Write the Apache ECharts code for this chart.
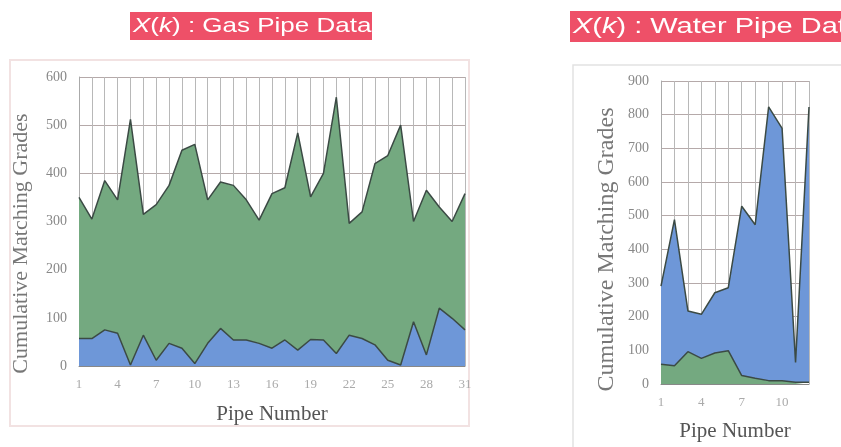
<!DOCTYPE html>
<html>
<head>
<meta charset="utf-8">
<script src="https://cdn.jsdelivr.net/npm/echarts@6/dist/echarts.min.js"></script>
<style>
  html, body { margin: 0; padding: 0; background: #fff; }
  #chart { width: 841px; height: 447px; }
</style>
</head>
<body>
<div id="chart"></div>
<script>
// gas pipes: blue bottom layer, green stacked on top
const gasPipes = ['1','2','3','4','5','6','7','8','9','10','11','12','13','14','15','16','17','18','19','20','21','22','23','24','25','26','27','28','29','30','31'];
const gasBlue = [57, 57, 75, 68, 2, 64, 12, 47, 37, 5, 47, 78, 54, 54, 47, 37, 54, 33, 55, 54, 26, 64, 57, 44, 12, 2, 92, 23, 120, 99, 75];
const gasGreen = [293, 248, 310, 277, 510, 251, 323, 328, 411, 455, 298, 304, 321, 291, 256, 321, 316, 451, 296, 346, 532, 232, 263, 376, 425, 498, 208, 342, 210, 201, 283];
const gasTicks = [0, 100, 200, 300, 400, 500, 600];

// water pipes: green bottom layer, blue stacked on top
const waterPipes = ['1','2','3','4','5','6','7','8','9','10','11','12'];
const waterGreen = [59, 54, 96, 76, 92, 99, 25, 17, 10, 10, 5, 5];
const waterBlue = [232, 434, 121, 131, 179, 187, 503, 456, 813, 749, 59, 818];
const waterTicks = [0, 100, 200, 300, 400, 500, 600, 700, 800, 900];

const GREEN = '#74a980';
const BLUE = '#6e97d8';
const EDGE = '#3b4a44';
const SERIF = '"Liberation Serif", "DejaVu Serif", serif';
const SANS = '"Liberation Sans", Arial, sans-serif';

const chart = echarts.init(document.getElementById('chart'));

// red title banner; the text in the picture is stretched sideways, so squash it vertically
const banner = (x, y, w, h, size, text) => ({
  type: 'group',
  children: [
    { type: 'rect', shape: { x: x, y: y, width: w, height: h }, style: { fill: '#ee5068' } },
    {
      type: 'text',
      x: x + 3,
      y: y + h / 2,
      scaleY: 0.78,
      style: {
        text: text,
        fill: '#fff',
        font: size + 'px ' + SANS,
        verticalAlign: 'middle',
        rich: {
          i: { fill: '#fff', fontFamily: SANS, fontSize: size, fontStyle: 'italic' }
        }
      }
    }
  ]
});

const xAxisFor = (gridIndex, data, nameGap) => ({
  type: 'category',
  gridIndex: gridIndex,
  data: data,
  boundaryGap: false,
  name: 'Pipe Number',
  nameLocation: 'middle',
  nameGap: nameGap,
  nameTextStyle: { fontFamily: SERIF, fontSize: 21, color: '#555' },
  axisLine: { lineStyle: { color: '#888', width: 1 } },
  axisTick: { show: false },
  axisLabel: { interval: 2, fontFamily: SERIF, fontSize: 13, color: '#aaa', margin: 12 },
  splitLine: { show: true, interval: 0, lineStyle: { color: '#b8b8b8', width: 1 } }
});

const yAxisFor = (gridIndex, ticks, nameGap, fontSize, shift) => ({
  type: 'value',
  gridIndex: gridIndex,
  min: ticks[0],
  max: ticks[ticks.length - 1],
  interval: ticks[1] - ticks[0],
  name: 'Cumulative Matching Grades',
  nameLocation: 'middle',
  nameGap: nameGap,
  nameTextStyle: { fontFamily: SERIF, fontSize: fontSize, color: '#777', padding: [0, shift, 0, 0] },
  axisLine: { show: true, lineStyle: { color: '#aaa' } },
  axisTick: { show: false },
  axisLabel: { fontFamily: SERIF, fontSize: 14, color: '#888', margin: 12 },
  splitLine: { show: true, lineStyle: { color: '#b5a9a9', width: 1 } }
});

const areaSeries = (name, xi, stack, data, color) => ({
  name: name,
  type: 'line',
  xAxisIndex: xi,
  yAxisIndex: xi,
  stack: stack,
  data: data,
  symbol: 'none',
  lineStyle: { color: EDGE, width: 1.5 },
  areaStyle: { color: color, opacity: 1 }
});

chart.setOption({
  animation: false,
  backgroundColor: '#fff',
  graphic: [
    {
      type: 'rect', z: -10,
      shape: { x: 10, y: 60, width: 459, height: 366 },
      style: { fill: '#fff', stroke: '#f2e2e2', lineWidth: 2 }
    },
    {
      type: 'rect', z: -10,
      shape: { x: 573, y: 65, width: 280, height: 400 },
      style: { fill: '#fff', stroke: '#e2e2e2', lineWidth: 1.5 }
    },
    banner(130, 12, 242, 28, 26, '{i|X}({i|k}) : Gas Pipe Data'),
    banner(570, 11, 280, 31, 29, '{i|X}({i|k}) : Water Pipe Data')
  ],
  grid: [
    { left: 79, right: 376, top: 77, bottom: 81 },
    { left: 661, right: 32, top: 81, bottom: 62 }
  ],
  xAxis: [xAxisFor(0, gasPipes, 38), xAxisFor(1, waterPipes, 37)],
  yAxis: [yAxisFor(0, gasTicks, 47, 22, 44), yAxisFor(1, waterTicks, 42, 24, 34)],
  series: [
    areaSeries('gas blue', 0, 'gas', gasBlue, BLUE),
    areaSeries('gas green', 0, 'gas', gasGreen, GREEN),
    areaSeries('water green', 1, 'water', waterGreen, GREEN),
    areaSeries('water blue', 1, 'water', waterBlue, BLUE)
  ]
});

window.addEventListener('resize', () => chart.resize());
</script>
</body>
</html>
